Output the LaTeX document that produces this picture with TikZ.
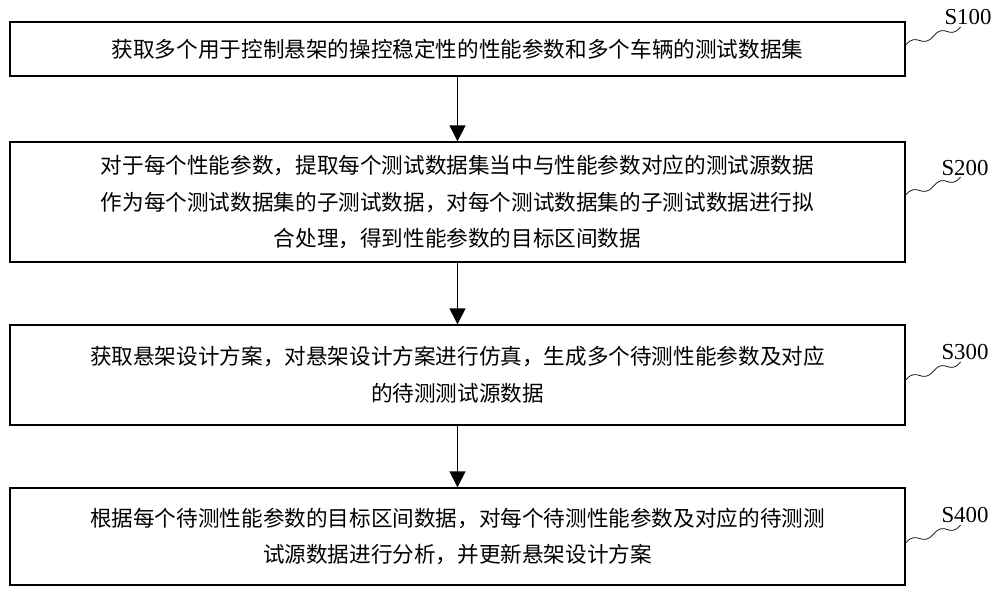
\documentclass[tikz,border=0pt]{standalone}
\usepackage{fontspec}
\setmainfont{Liberation Serif}
\newfontfamily\cjk{Noto Sans CJK SC}
\usetikzlibrary{arrows.meta}
\tikzset{
  stepbox/.style={draw, thick, minimum width=17.9cm, align=center, font=\cjk\fontsize{12.3}{21}\selectfont, inner sep=0pt},
  flow/.style={thick, -{Triangle[length=9pt,width=9pt]}},
  wave/.style={thin},
  steplabel/.style={font=\fontsize{13}{15}\selectfont}
}
\begin{document}
\begin{tikzpicture}[x=0.02cm,y=-0.02cm]
\useasboundingbox (0,0) rectangle (1000,594);
     \node[stepbox, minimum height=1.08cm] (b1) at (457.5,49) {获取多个用于控制悬架的操控稳定性的性能参数和多个车辆的测试数据集};
     \node[stepbox, minimum height=2.4cm] (b2) at (457.5,202) {对于每个性能参数，提取每个测试数据集当中与性能参数对应的测试源数据\\作为每个测试数据集的子测试数据，对每个测试数据集的子测试数据进行拟\\合处理，得到性能参数的目标区间数据};
     \node[stepbox, minimum height=2.0cm] (b3) at (457.5,375) {获取悬架设计方案，对悬架设计方案进行仿真，生成多个待测性能参数及对应\\的待测测试源数据};
     \node[stepbox, minimum height=1.94cm] (b4) at (457.5,536.5) {根据每个待测性能参数的目标区间数据，对每个待测性能参数及对应的待测测\\试源数据进行分析，并更新悬架设计方案};
     \draw[flow] (b1) -- (b2);
     \draw[flow] (b2) -- (b3);
     \draw[flow] (b3) -- (b4);
     % step labels with wavy leaders
     \node[steplabel] (s1) at (968,17) {S100};
     \node[steplabel] (s2) at (965,168) {S200};
     \node[steplabel] (s3) at (965,352) {S300};
     \node[steplabel] (s4) at (965,515) {S400};
     \foreach \b/\s/\y in {b1/s1/45, b2/s2/195, b3/s3/380, b4/s4/543}{
       \draw[wave] (\b.east |- 0,\y) .. controls +(12,-14) and +(-12,14) .. +(28,-9)
                    .. controls +(12,-14) and +(-12,14) .. +(55,-18);
     }
\end{tikzpicture}
\end{document}
